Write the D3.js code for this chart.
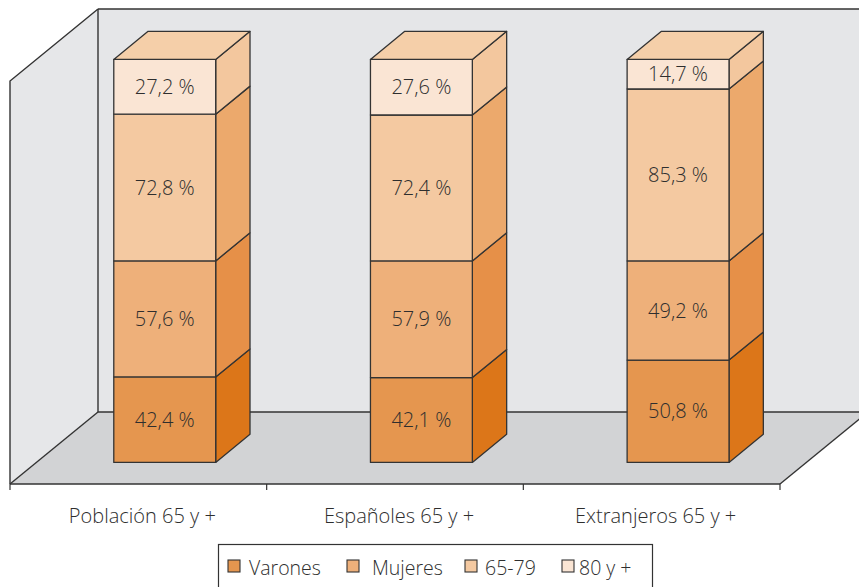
<!DOCTYPE html>
<html>
<head>
<meta charset="utf-8">
<script src="https://cdn.jsdelivr.net/npm/d3@7"></script>
<style>
  html, body { margin: 0; padding: 0; background: #ffffff; }
  svg { display: block; }
  text { font-family: "Open Sans", "Noto Sans", sans-serif; fill: #2e2e2e; font-weight: 300; }
</style>
</head>
<body>
<svg id="chart" width="859" height="587"></svg>
<script>
// Categories and stacked shares (sex stack, then age stack, each summing to 100)
const categories = ["Población 65 y +", "Españoles 65 y +", "Extranjeros 65 y +"];
const seriesNames = ["Varones", "Mujeres", "65-79", "80 y +"];
const varones = [42.4, 42.1, 50.8];
const mujeres = [57.6, 57.9, 49.2];
const edad6579 = [72.8, 72.4, 85.3];
const edad80 = [27.2, 27.6, 14.7];
const valueLabels = [
  ["42,4 %", "57,6 %", "72,8 %", "27,2 %"],
  ["42,1 %", "57,9 %", "72,4 %", "27,6 %"],
  ["50,8 %", "49,2 %", "85,3 %", "14,7 %"]
];

const frontColors = ["#e5964f", "#eeb07a", "#f4c9a1", "#fae5d4"];
const sideColors  = ["#dc7619", "#e69048", "#eca96c", "#f3c79e"];
const topColor = "#f5cfa9";
const edge = "#333333";

const svg = d3.select("#chart");

// Oblique projection: depth 0 = front of the floor, 1 = back wall
const depthX = 88, depthY = -72;
const proj = (x, y, z) => [x + depthX * z, y + depthY * z];

const x = d3.scaleBand().domain(categories).range([10, 780]);
const y = d3.scaleLinear().domain([0, 200]).range([484, 81]);

const zFront = 0.3, zBack = 0.69;
const barW = x.bandwidth() * 0.397;

const rows = categories.map((c, i) => {
  const vals = [varones[i], mujeres[i], edad6579[i], edad80[i]];
  let acc = 0;
  return vals.map((v, k) => {
    const seg = { cat: c, i, k, y0: acc, y1: acc + v, label: valueLabels[i][k] };
    acc += v;
    return seg;
  });
});

const line = d3.line();
const xLeft = x.range()[0], xRight = x.range()[1];

// Walls and floor
const walls = svg.append("g");
walls.append("path")
  .attr("d", line([proj(xLeft, y(200), 1), proj(xRight, y(200), 1), proj(xRight, y(0), 1), proj(xLeft, y(0), 1)]) + "Z")
  .attr("fill", "#e5e6e8");
walls.append("path")
  .attr("d", line([proj(xLeft, y(0), 0), proj(xLeft, y(200), 0), proj(xLeft, y(200), 1), proj(xLeft, y(0), 1)]) + "Z")
  .attr("fill", "#e6e7e9");
walls.append("path")
  .attr("d", line([proj(xLeft, y(0), 0), proj(xRight, y(0), 0), proj(xRight, y(0), 1), proj(xLeft, y(0), 1)]) + "Z")
  .attr("fill", "#d2d3d5");

const edges = [
  [proj(xLeft, y(200), 1), proj(xRight, y(200), 1)],
  [proj(xLeft, y(200), 1), proj(xLeft, y(0), 1)],
  [proj(xLeft, y(0), 1), proj(xRight, y(0), 1)],
  [proj(xLeft, y(0), 0), proj(xLeft, y(200), 0), proj(xLeft, y(200), 1)],
  [proj(xLeft, y(0), 0), proj(xLeft, y(0), 1)],
  [proj(xRight, y(0), 0), proj(xRight, y(0), 1)]
];
walls.selectAll("path.edge").data(edges).join("path")
  .attr("class", "edge")
  .attr("d", d => line(d))
  .attr("fill", "none")
  .attr("stroke", edge)
  .attr("stroke-width", 1.4);

// Category axis along the front edge of the floor
const axisG = svg.append("g").attr("transform", `translate(0,${y(0)})`);
axisG.append("line")
  .attr("x1", xLeft).attr("x2", xRight)
  .attr("stroke", edge).attr("stroke-width", 1.4);
const tickXs = categories.map(c => x(c)).concat([xRight]);
axisG.selectAll("line.tick").data(tickXs).join("line")
  .attr("class", "tick")
  .attr("x1", d => d).attr("x2", d => d)
  .attr("y1", 0).attr("y2", 6)
  .attr("stroke", edge).attr("stroke-width", 1.2);
axisG.selectAll("text").data(categories).join("text")
  .attr("x", d => x(d) + x.bandwidth() / 2 + 4)
  .attr("y", 39)
  .attr("text-anchor", "middle")
  .attr("font-size", 20)
  .text(d => d);

// Stacked boxes
const bars = svg.append("g");
rows.forEach(segs => {
  const cx = x(segs[0].cat) + x.bandwidth() / 2;
  const xl = cx - barW / 2, xr = cx + barW / 2;
  const g = bars.append("g");
  segs.forEach(s => {
    const side = [proj(xr, y(s.y0), zFront), proj(xr, y(s.y0), zBack), proj(xr, y(s.y1), zBack), proj(xr, y(s.y1), zFront)];
    g.append("path")
      .attr("d", line(side) + "Z")
      .attr("fill", sideColors[s.k])
      .attr("stroke", edge).attr("stroke-width", 1.3).attr("stroke-linejoin", "round");
    const front = [proj(xl, y(s.y0), zFront), proj(xr, y(s.y0), zFront), proj(xr, y(s.y1), zFront), proj(xl, y(s.y1), zFront)];
    g.append("path")
      .attr("d", line(front) + "Z")
      .attr("fill", frontColors[s.k])
      .attr("stroke", edge).attr("stroke-width", 1.3).attr("stroke-linejoin", "round");
    const [lx, ly] = proj(cx, y((s.y0 + s.y1) / 2), zFront);
    g.append("text")
      .attr("x", lx).attr("y", ly)
      .attr("dy", "0.36em")
      .attr("text-anchor", "middle")
      .attr("font-size", 20)
      .text(s.label);
  });
  const topV = segs[segs.length - 1].y1;
  const topFace = [proj(xl, y(topV), zFront), proj(xr, y(topV), zFront), proj(xr, y(topV), zBack), proj(xl, y(topV), zBack)];
  g.append("path")
    .attr("d", line(topFace) + "Z")
    .attr("fill", topColor)
    .attr("stroke", edge).attr("stroke-width", 1.3).attr("stroke-linejoin", "round");
});

// Legend
const legend = svg.append("g");
legend.append("rect")
  .attr("x", 218.5).attr("y", 544.5)
  .attr("width", 434).attr("height", 60)
  .attr("fill", "#ffffff")
  .attr("stroke", edge).attr("stroke-width", 1.2);
const legendX = [228, 347, 465, 562];
const textOffsets = [21, 25, 20, 17];
const items = legend.selectAll("g.item").data(seriesNames).join("g")
  .attr("class", "item")
  .attr("transform", (d, i) => `translate(${legendX[i]},560)`);
items.append("rect")
  .attr("width", 12).attr("height", 12)
  .attr("fill", (d, i) => frontColors[i])
  .attr("stroke", edge).attr("stroke-width", 1.1);
items.append("text")
  .attr("x", (d, i) => textOffsets[i])
  .attr("y", 15)
  .attr("font-size", 19.5)
  .text(d => d);
</script>
</body>
</html>
